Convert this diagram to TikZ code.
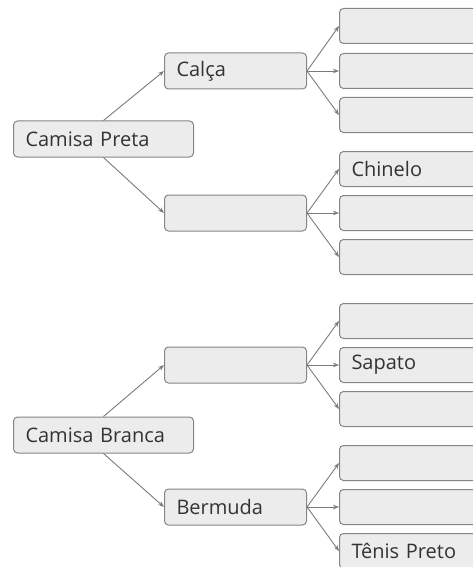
\documentclass[tikz,border=0pt]{standalone}
\usepackage{fontspec}
\setmainfont{Open Sans}
\usetikzlibrary{arrows.meta}
\definecolor{boxfill}{HTML}{ECECEC}
\definecolor{boxline}{HTML}{858585}
\definecolor{linkcol}{HTML}{7A7A7A}
\definecolor{txt}{HTML}{333333}
\tikzset{
  base/.style={draw=boxline, fill=boxfill, line width=1pt, rounded corners=4pt,
    inner xsep=12pt, inner ysep=0pt, align=left, text=txt,
    font=\fontsize{20}{22}\selectfont, anchor=west},
  rootbox/.style={base, minimum width=180pt, text width=156pt, minimum height=36pt},
  midbox/.style={base, minimum width=142pt, text width=118pt, minimum height=36pt},
  leafbox/.style={base, minimum width=170pt, text width=146pt, minimum height=35pt},
  link/.style={draw=linkcol, line width=0.9pt, -{Stealth[length=6pt,width=4.5pt]}}
}
\begin{document}
\begin{tikzpicture}[x=1pt,y=-1pt]
\useasboundingbox (0,0) rectangle (473,567);
\clip (0,0) rectangle (473,567);
% roots
\node[rootbox] (r1) at (13,139) {Camisa Preta};
\node[rootbox] (r2) at (13,435) {Camisa Branca};
% mids
\node[midbox] (m1) at (164,71) {Calça};
\node[midbox] (m2) at (164,213) {};
\node[midbox] (m3) at (164,365) {};
\node[midbox] (m4) at (164,507) {Bermuda};
% leaves
\node[leafbox] (l1) at (339,26) {};
\node[leafbox] (l2) at (339,71) {};
\node[leafbox] (l3) at (339,115) {};
\node[leafbox] (l4) at (339,169) {Chinelo};
\node[leafbox] (l5) at (339,213) {};
\node[leafbox] (l6) at (339,257) {};
\node[leafbox] (l7) at (339,321) {};
\node[leafbox] (l8) at (339,365) {Sapato};
\node[leafbox] (l9) at (339,409) {};
\node[leafbox] (l10) at (339,463) {};
\node[leafbox] (l11) at (339,507) {};
\node[leafbox] (l12) at (339,551) {Tênis Preto};
% links
\draw[link] (r1.north) -- (m1.west);
\draw[link] (r1.south) -- (m2.west);
\draw[link] (r2.north) -- (m3.west);
\draw[link] (r2.south) -- (m4.west);
\foreach \m/\a/\b/\c in {m1/l1/l2/l3, m2/l4/l5/l6, m3/l7/l8/l9, m4/l10/l11/l12}{
  \draw[link] (\m.east) -- (\a.west);
  \draw[link] (\m.east) -- (\b.west);
  \draw[link] (\m.east) -- (\c.west);
}
\end{tikzpicture}
\end{document}
